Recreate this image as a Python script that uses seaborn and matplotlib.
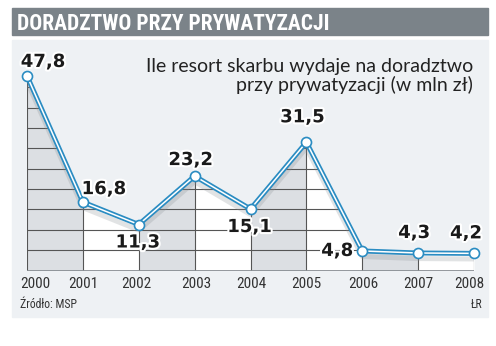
import matplotlib
matplotlib.use('Agg')
import matplotlib.pyplot as plt
import matplotlib.patheffects as pe
from matplotlib.patches import Rectangle, Polygon
from matplotlib import font_manager
import seaborn as sns
import pandas as pd
import numpy as np

years = [2000, 2001, 2002, 2003, 2004, 2005, 2006, 2007, 2008]
values = [47.8, 16.8, 11.3, 23.2, 15.1, 31.5, 4.8, 4.3, 4.2]
value_labels = ["47,8", "16,8", "11,3", "23,2", "15,1", "31,5", "4,8", "4,3", "4,2"]
year_labels = ["2000", "2001", "2002", "2003", "2004", "2005", "2006", "2007", "2008"]
title = "DORADZTWO PRZY PRYWATYZACJI"
subtitle_lines = ["Ile resort skarbu wydaje na doradztwo", "przy prywatyzacji (w mln zł)"]
source = "Źródło: MSP"
credit = "ŁR"

names = {f.name for f in font_manager.fontManager.ttflist}
def pick(*cands):
    for c in cands:
        if c in names:
            return c
    return 'DejaVu Sans'
narrow = pick('Liberation Sans Narrow', 'DejaVu Sans Condensed', 'Roboto Condensed')
light = pick('Lato', 'Open Sans', 'Roboto')

W, H = 496, 346
fig = plt.figure(figsize=(W / 100, H / 100), dpi=100)
fig.patch.set_facecolor('white')

def fx(px):
    return px / W

def fy(py):
    return 1 - py / H

# title bar and panel
fig.patches.append(Rectangle((fx(12), fy(35)), fx(476), 27 / H, transform=fig.transFigure,
                             color='#7b8389', zorder=-5))
fig.patches.append(Rectangle((fx(12), fy(317)), fx(476), 277 / H, transform=fig.transFigure,
                             color='#eef1f4', zorder=-5))

ax = fig.add_axes([fx(27), fy(270.5), 447 / W, 203.5 / H])
ax.set_zorder(2)
ax.patch.set_alpha(0)

# alternating fills under the curve
for i in range(len(years) - 1):
    color = '#dcdfe3' if i % 2 == 0 else 'white'
    ax.fill_between(years[i:i + 2], values[i:i + 2], 0, color=color, lw=0, zorder=1)

verts = [(years[0], 0)] + list(zip(years, values)) + [(years[-1], 0)]
poly = Polygon(verts, closed=True, transform=ax.transData, facecolor='none', edgecolor='none')
ax.add_patch(poly)
grid = ax.hlines(np.arange(5, 50, 5), years[0], years[-1], colors='#555555', lw=0.8, zorder=2)
grid.set_clip_path(poly)
ax.vlines(years, 0, values, colors='#555555', lw=0.8, zorder=2)
ax.hlines(0, years[0], years[-1], colors='#8a8f94', lw=1.3, zorder=2)

df = pd.DataFrame({'year': years, 'value': values})
blue = '#2a8cc2'
sns.lineplot(data=df, x='year', y='value', ax=ax, color=blue, lw=3.6, zorder=4, legend=False,
             path_effects=[pe.SimpleLineShadow(offset=(0, -4), shadow_color='#8a9096', alpha=0.25),
                           pe.Normal()])
sns.lineplot(data=df, x='year', y='value', ax=ax, color='white', lw=1.1, zorder=5, legend=False)
sns.scatterplot(data=df, x='year', y='value', ax=ax, s=52, color='white', edgecolor=blue,
                linewidth=1.2, zorder=6, clip_on=False, legend=False)
ax.set_xlim(2000, 2008)
ax.set_ylim(0, 50)
ax.axis('off')

label_offsets = [(16, 14), (21, 13), (-1, -18), (-4, 16), (-1, -18), (-4, 25), (-25, 0), (-4, 20), (-8, 20)]
for yr, v, lbl, off in zip(years, values, value_labels, label_offsets):
    ax.annotate(lbl, (yr, v), xytext=off, textcoords='offset pixels', ha='center', va='center',
                fontsize=13, fontweight='bold', color='#1a1a1a', zorder=7, annotation_clip=False,
                path_effects=[pe.withStroke(linewidth=3, foreground='white')])

year_offsets = [8, 0, -2, 2, 1, 0, 1, 0, -5]
for yr, lbl, dx in zip(years, year_labels, year_offsets):
    ax.annotate(lbl, (yr, 0), xytext=(dx, -13), textcoords='offset pixels', ha='center', va='center',
                fontsize=11, family=narrow, color='#333333', annotation_clip=False)

fig.text(fx(473), fy(72), subtitle_lines[0], ha='right', va='baseline', fontsize=14,
         family=light, color='#222222')
fig.text(fx(473), fy(90.5), subtitle_lines[1], ha='right', va='baseline', fontsize=14,
         family=light, color='#222222')
fig.text(fx(17), fy(30), title, ha='left', va='baseline', fontsize=15.5, fontweight='bold',
         family=narrow, color='white')
fig.text(fx(20), fy(308), source, ha='left', va='baseline', fontsize=8.5, family=narrow, color='#333333')
fig.text(fx(482), fy(308), credit, ha='right', va='baseline', fontsize=8.5, family=narrow, color='#333333')

fig.savefig('out.png', dpi=100, facecolor='white')
